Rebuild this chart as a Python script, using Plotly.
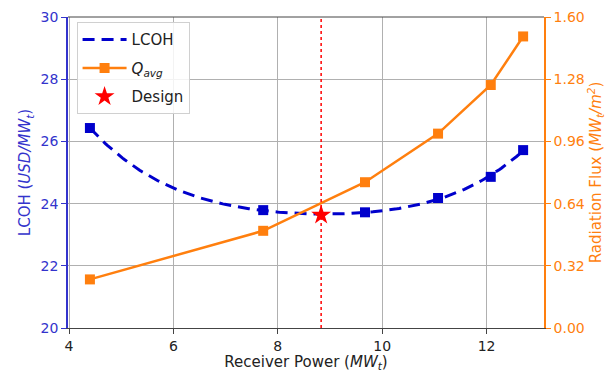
import numpy as np
import plotly.graph_objects as go

power = [4.40, 7.72, 9.67, 11.07, 12.08, 12.70]
lcoh = [26.43, 23.79, 23.72, 24.18, 24.86, 25.72]
q_avg = [0.25, 0.50, 0.75, 1.00, 1.25, 1.50]
design_power = [8.83]
design_lcoh = [23.63]

blue = "#0000cc"
orange = "#ff7f0e"
axblue = "#3333cc"

# smooth fitted LCOH curve derived from the data points
fit_x = np.array(power[:2] + design_power + power[2:])
fit_y = np.array(lcoh[:2] + design_lcoh + lcoh[2:])
coef = np.polyfit(fit_x, fit_y, 4)
curve_x = np.linspace(min(power), max(power), 200)
curve_y = np.polyval(coef, curve_x)

fig = go.Figure()
fig.add_trace(go.Scatter(x=curve_x, y=curve_y, mode="lines", name="LCOH", legendgroup="a",
                         line=dict(color=blue, width=3, dash="12px,7px"),
                         yaxis="y"))
fig.add_trace(go.Scatter(x=power, y=lcoh, mode="markers", showlegend=False,
                         marker=dict(color=blue, symbol="square", size=10), yaxis="y"))
fig.add_trace(go.Scatter(x=power, y=q_avg, mode="lines+markers", name="<i>Q<sub>avg</sub></i>",
                         legendgroup="b",
                         line=dict(color=orange, width=2.5),
                         marker=dict(color=orange, symbol="square", size=10), yaxis="y2"))
fig.add_trace(go.Scatter(x=design_power, y=design_lcoh, mode="markers", name="Design",
                         legendgroup="c",
                         marker=dict(color="red", symbol="star", size=15, line=dict(width=0)),
                         yaxis="y"))

fig.add_shape(type="line", x0=design_power[0], x1=design_power[0], y0=0, y1=1,
              xref="x", yref="paper", line=dict(color="red", width=1.5, dash="dot"))

fig.update_layout(
    width=609, height=372,
    margin=dict(l=68, r=65, t=17, b=44),
    plot_bgcolor="white", paper_bgcolor="white",
    font=dict(family="DejaVu Sans", size=14, color="#222"),
    xaxis=dict(range=[3.98, 13.1], tickvals=[4, 6, 8, 10, 12], showgrid=True,
               gridcolor="#b0b0b0", gridwidth=1, zeroline=False, automargin=False,
               showline=True, linecolor="#444", linewidth=1, mirror=False,
               ticks="outside", ticklen=5, tickcolor="#444",
               title=dict(text="Receiver Power (<i>MW<sub>t</sub></i>)", font=dict(size=15), standoff=2),
               tickfont=dict(size=14, color="#222")),
    yaxis=dict(range=[20, 30], tickvals=[20, 22, 24, 26, 28, 30], showgrid=True,
               gridcolor="#b0b0b0", gridwidth=1, zeroline=False, automargin=False,
               showline=True, linecolor=axblue, linewidth=1.5,
               ticks="outside", ticklen=5, tickcolor=axblue,
               tickfont=dict(size=14, color=axblue),
               title=dict(text="LCOH (<i>USD/MW<sub>t</sub></i>)", font=dict(size=15, color=axblue), standoff=6)),
    yaxis2=dict(range=[0, 1.6], tickvals=[0, 0.32, 0.64, 0.96, 1.28, 1.60], tickformat=".2f",
                overlaying="y", side="right", showgrid=False, zeroline=False, automargin=False,
                showline=True, linecolor=orange, linewidth=1.5,
                ticks="outside", ticklen=5, tickcolor=orange,
                tickfont=dict(size=14, color=orange),
                title=dict(text="Radiation Flux (<i>MW<sub>t</sub>/m<sup>2</sup></i>)", font=dict(size=15, color=orange), standoff=6)),
    legend=dict(x=0.018, y=0.983, xanchor="left", yanchor="top",
                bgcolor="rgba(255,255,255,0.85)", bordercolor="#d0d0d0", borderwidth=1,
                font=dict(size=15, color="#222"), itemwidth=44, tracegroupgap=6,
                traceorder="grouped"),
    showlegend=True,
)
fig.add_shape(type="line", x0=0, x1=1, y0=1, y1=1, xref="paper", yref="paper",
              line=dict(color="#444", width=1))

fig.write_html("out.html")
